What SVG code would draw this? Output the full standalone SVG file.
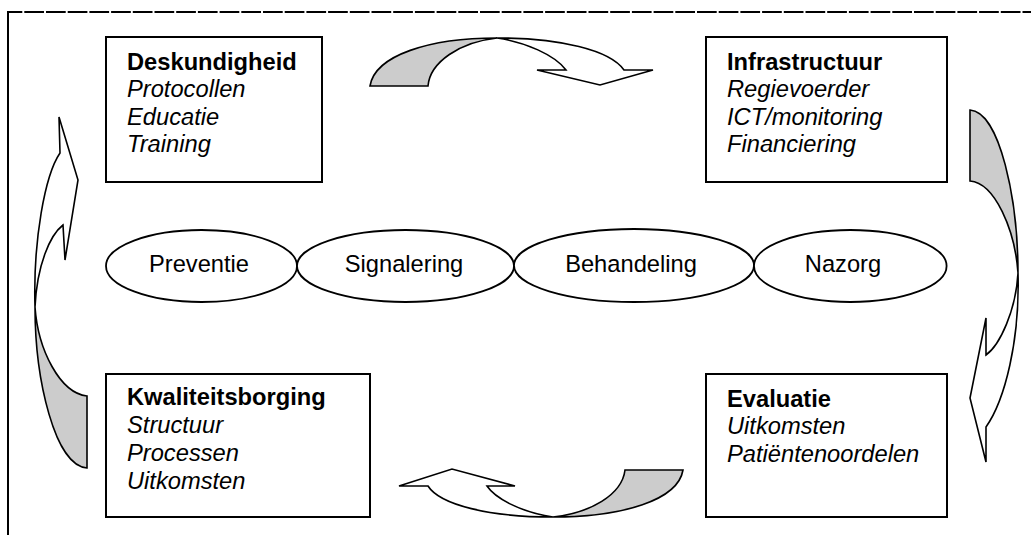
<svg xmlns="http://www.w3.org/2000/svg" width="1031" height="535" viewBox="0 0 1031 535">
<style>
.box{fill:#fff;stroke:#000;stroke-width:2}
.ell{fill:#fff;stroke:#000;stroke-width:1.8}
.arrW{fill:#fff;stroke:#000;stroke-width:1.6;stroke-linejoin:miter}
.arrG{fill:#cccccc;stroke:#000;stroke-width:1.6;stroke-linejoin:miter}
.t{font-family:"Liberation Sans",Arial,sans-serif;font-size:23.7px;fill:#000}
.b{font-weight:bold}
.i{font-style:italic}
.c{text-anchor:middle}
</style>
<rect width="1031" height="535" fill="#fff"/>
<g id="frame">
<line x1="8" y1="12" x2="1031" y2="12" stroke="#000" stroke-width="2" stroke-dasharray="19.7 2" stroke-dashoffset="5.4"/>
<line x1="8" y1="11" x2="8" y2="535" stroke="#000" stroke-width="2"/>
</g>
<g id="connectors">
<g id="arrow-top">
<path class="arrG" d="M370,86 C375,55 430,38 497,38 C460,42 430,62 428,86 Z"/>
<path class="arrW" d="M497,38 C560,38 610,50 624,70 L653,70 L600,85 L537,70 L566,70 C555,55 525,42 497,38 Z"/>
</g>
<g id="arrow-right">
<path class="arrG" d="M970,110 C1000,112 1018,200 1018,273 C1015,230 995,183 970,181 Z"/>
<path class="arrW" d="M1018,273 C1020,340 1005,400 986,427 L986,462 L970,398 L986,318 L986,355 C1000,345 1016,310 1018,273 Z"/>
</g>
<g id="arrow-bottom">
<path class="arrG" d="M683,470 C678,500 623,517 553,517 C590,513 622,495 625,470 Z"/>
<path class="arrW" d="M553,517 C490,517 440,505 428,486 L399,486 L452,469 L515,486 L487,486 C495,498 520,512 553,517 Z"/>
</g>
<g id="arrow-left">
<path class="arrG" d="M87,468 C55,466 35,380 35,307 C38,350 60,393 87,396 Z"/>
<path class="arrW" d="M35,307 C33,240 45,175 60,153 L59,117 L78,180 L65,260 L63,225 C50,235 37,265 35,307 Z"/>
</g>
</g>
<g id="node-deskundigheid">
<rect class="box" x="106" y="37" width="216" height="145"/>
<text class="t b" x="127" y="70">Deskundigheid</text>
<text class="t i" x="127" y="97.3">Protocollen</text>
<text class="t i" x="127" y="125">Educatie</text>
<text class="t i" x="127" y="152">Training</text>
</g>
<g id="node-infrastructuur">
<rect class="box" x="706" y="37" width="241" height="145"/>
<text class="t b" x="727" y="70">Infrastructuur</text>
<text class="t i" x="727" y="97.3">Regievoerder</text>
<text class="t i" x="727" y="125">ICT/monitoring</text>
<text class="t i" x="727" y="152">Financiering</text>
</g>
<g id="node-kwaliteitsborging">
<rect class="box" x="106" y="374" width="264" height="143"/>
<text class="t b" x="127" y="405">Kwaliteitsborging</text>
<text class="t i" x="127" y="433">Structuur</text>
<text class="t i" x="127" y="461">Processen</text>
<text class="t i" x="127" y="488.5">Uitkomsten</text>
</g>
<g id="node-evaluatie">
<rect class="box" x="706" y="374" width="241" height="143"/>
<text class="t b" x="727" y="406.5">Evaluatie</text>
<text class="t i" x="727" y="434">Uitkomsten</text>
<text class="t i" x="727" y="461.5">Patiëntenoordelen</text>
</g>
<g id="node-preventie">
<ellipse class="ell" cx="201.5" cy="266" rx="95.5" ry="36"/>
<text class="t c" x="199" y="271.7">Preventie</text>
</g>
<g id="node-signalering">
<ellipse class="ell" cx="405.5" cy="266" rx="108.5" ry="36"/>
<text class="t c" x="404" y="271.7">Signalering</text>
</g>
<g id="node-behandeling">
<ellipse class="ell" cx="634" cy="265.5" rx="120" ry="36.5"/>
<text class="t c" x="631" y="271.7">Behandeling</text>
</g>
<g id="node-nazorg">
<ellipse class="ell" cx="850.3" cy="266" rx="96.3" ry="36"/>
<text class="t c" x="843" y="271.7">Nazorg</text>
</g>
</svg>
